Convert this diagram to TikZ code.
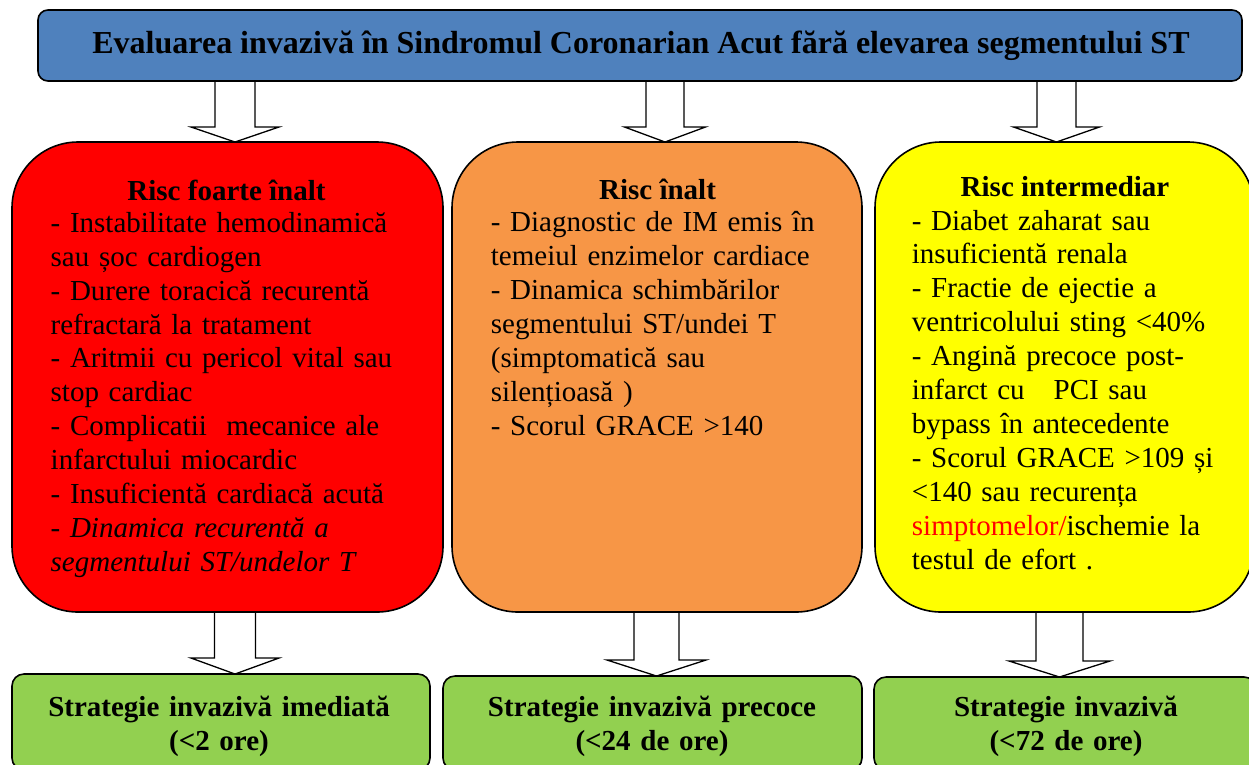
\documentclass[tikz,border=0pt]{standalone}
\usepackage{fontspec}
\setmainfont{Liberation Serif}
\usetikzlibrary{calc}
\definecolor{titleblue}{HTML}{4F81BD}
\definecolor{riskred}{HTML}{FF0000}
\definecolor{riskorange}{HTML}{F79646}
\definecolor{riskyellow}{HTML}{FFFF00}
\definecolor{stratgreen}{HTML}{92D050}
\pgfdeclarelayer{background}
\pgfsetlayers{background,main}

\begin{document}
\begin{tikzpicture}[x=1pt,y=-1pt,
  box/.style={draw=black,line width=1.6pt,inner sep=0pt,outer sep=0pt},
  titlebox/.style={box,fill=titleblue,rounded corners=10pt},
  riskbox/.style={box,rounded corners=66pt},
  stratbox/.style={box,fill=stratgreen,rounded corners=12pt},
  titletext/.style={font=\fontsize{32}{36}\selectfont\bfseries,anchor=base,inner sep=0pt},
  headtext/.style={font=\fontsize{29}{33.9}\selectfont\bfseries,anchor=base,inner sep=0pt},
  bodytext/.style={font=\fontsize{29}{33.9}\selectfont,anchor=base west,inner sep=0pt,align=left,text width=#1},
  strattext/.style={font=\fontsize{29}{33.6}\selectfont\bfseries,anchor=base,inner sep=0pt,align=center,text width=400pt},
  blockarrow/.style n args={3}{draw=black,line width=1.3pt,fill=white,line join=miter,
    to path={let \p1=(\tikztostart),\p2=(\tikztotarget) in
      (\x1-#1,\y1) -- (\x1-#1,\y2+#3) -- (\x1-#2,\y2+#3) -- (\x2,\y2)
      -- (\x1+#2,\y2+#3) -- (\x1+#1,\y2+#3) -- (\x1+#1,\y1)}}
]
\useasboundingbox (0,0) rectangle (1249,764);
\clip (0,0) rectangle (1249,764);

% title bar
\node[titlebox,minimum width=1204pt,minimum height=71pt] (top) at (640,45.5) {};
\node[titletext] (title) at (641,53.3) {Evaluarea invazivă în Sindromul Coronarian Acut fără elevarea segmentului ST};

% risk categories
\node[riskbox,fill=riskred,minimum width=431pt,minimum height=470pt] (red) at (227.5,377) {};
\node[riskbox,fill=riskorange,minimum width=410pt,minimum height=470pt] (orange) at (657,377) {};
\node[riskbox,fill=riskyellow,minimum width=379pt,minimum height=470pt] (yellow) at (1064.5,377) {};

\node[headtext] (redhead) at (226.5,200) {Risc foarte înalt};
\node[headtext] (orangehead) at (657.5,199.3) {Risc înalt};
\node[headtext] (yellowhead) at (1065,196.7) {Risc intermediar};

\node[bodytext=390pt] (redbody) at (50.5,232.3) {- Instabilitate hemodinamică\\
sau șoc cardiogen\\
- Durere toracică recurentă\\
refractară la tratament\\
- Aritmii cu pericol vital sau\\
stop cardiac\\
- Complicatii\ \ mecanice ale\\
infarctului miocardic\\
- Insuficientă cardiacă acută\\
- \textit{Dinamica recurentă a}\\
\textit{segmentului ST/undelor T}};

\node[bodytext=350pt] (orangebody) at (490.7,231.7) {- Diagnostic de IM emis în\\
temeiul enzimelor cardiace\\
- Dinamica schimbărilor\\
segmentului ST/undei T\\
(simptomatică sau\\
silențioasă )\\
- Scorul GRACE >140};

\node[bodytext=330pt] (yellowbody) at (911.7,230) {- Diabet zaharat sau\\
insuficientă renala\\
- Fractie de ejectie a\\
ventricolului sting <40\%\\
- Angină precoce post-\\
infarct cu\ \ \ PCI sau\\
bypass în antecedente\\
- Scorul GRACE >109 și\\
<140 sau recurența\\
\textcolor{red}{simptomelor/}ischemie la\\
testul de efort .};

% strategies
\node[stratbox,minimum width=418pt,minimum height=96pt] (stratL) at (221,722) {};
\node[stratbox,minimum width=419pt,minimum height=94pt] (stratM) at (652.5,723) {};
\node[stratbox,minimum width=382pt,minimum height=93pt] (stratR) at (1065,723.5) {};

\node[strattext] (stratLtext) at (219,716.7) {Strategie invazivă imediată\\(<2 ore)};
\node[strattext] (stratMtext) at (652,716.7) {Strategie invazivă precoce\\(<24 de ore)};
\node[strattext] (stratRtext) at (1066,716.7) {Strategie invazivă\\(<72 de ore)};

% block arrows, drawn behind the boxes
\coordinate (ax1) at (235,0);
\coordinate (ax2) at (665,0);
\coordinate (ax3) at (1056.5,0);
\coordinate (ax4) at (235,0);
\coordinate (ax5) at (656.5,0);
\coordinate (ax6) at (1059.5,0);
\begin{pgfonlayer}{background}
\fill[white] (0,0) rectangle (1249,764);
\draw[blockarrow={20}{44}{15}] (top.south -| ax1) to (red.north -| ax1);
\draw[blockarrow={19}{40.5}{15}] (top.south -| ax2) to (orange.north -| ax2);
\draw[blockarrow={19.5}{43}{15}] (top.south -| ax3) to (yellow.north -| ax3);
\draw[blockarrow={20.5}{44}{16}] (red.south -| ax4) to (stratL.north -| ax4);
\draw[blockarrow={22.5}{49.5}{16}] (orange.south -| ax5) to (stratM.north -| ax5);
\draw[blockarrow={23.5}{50.5}{16}] (yellow.south -| ax6) to (stratR.north -| ax6);
\end{pgfonlayer}
\end{tikzpicture}
\end{document}
